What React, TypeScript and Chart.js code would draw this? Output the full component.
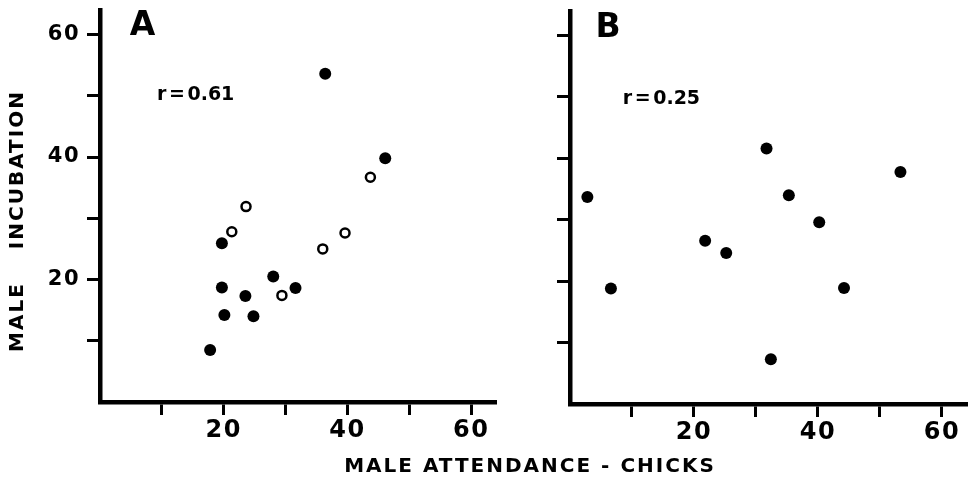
import React, { useEffect, useRef } from 'react';
import { Chart, registerables } from 'chart.js';
Chart.register(...registerables);

// ---- data ----
const aFilledX = [36.4, 46.1, 19.7, 19.7, 23.5, 28.0, 31.6, 20.1, 24.8, 17.8];
const aFilledY = [53.6, 39.8, 25.9, 18.7, 17.3, 20.5, 18.6, 14.2, 14.0, 8.5];
const aOpenX = [23.6, 21.3, 43.7, 39.6, 36.0, 29.4];
const aOpenY = [31.9, 27.8, 36.7, 27.6, 25.0, 17.4];
const bFilledX = [2.8, 6.6, 21.8, 25.2, 31.7, 32.4, 35.3, 40.2, 44.2, 53.3];
const bFilledY = [33.7, 18.8, 26.6, 24.6, 41.6, 7.3, 34.0, 29.6, 18.9, 37.8];
const labeledTicks = [20, 40, 60];
const panelLabels = ['A', 'B'];
const rLabels = ['r = 0.61', 'r = 0.25'];
const xTitle = 'MALE ATTENDANCE - CHICKS';
const yTitle = 'MALE INCUBATION';

const FONT = '"DejaVu Sans", sans-serif';

const toPoints = (xs: number[], ys: number[]) => xs.map((x, i) => ({ x, y: ys[i] }));

function axisCommon(max: number, showLabels: boolean, size: number, pad: number, fix: (s: any) => void) {
  return {
    type: 'linear',
    min: 0,
    max,
    afterFit: (s: any) => {
      fix(s);
      s.paddingTop = 0;
      s.paddingBottom = 0;
      s.paddingLeft = 0;
      s.paddingRight = 0;
    },
    grid: {
      display: true,
      drawOnChartArea: false,
      drawTicks: true,
      tickLength: 13,
      tickWidth: 3,
      color: '#000',
      tickColor: (c: any) => (c.tick && c.tick.value === 0 ? 'rgba(0,0,0,0)' : '#000'),
    },
    border: { display: true, color: '#000', width: 4.5 },
    ticks: {
      stepSize: 10,
      includeBounds: false,
      autoSkip: false,
      maxRotation: 0,
      padding: pad,
      color: '#000',
      font: { family: FONT, weight: 'bold', size },
      callback: (v: any) => (showLabels && labeledTicks.includes(Number(v)) ? String(v) : ''),
    },
  };
}

function makeTextPlugin(idx: number, lx: number, ly: number, rx: number, ry: number, titles: boolean) {
  return {
    id: 'panelText' + idx,
    beforeDraw(chart: any) {
      chart.ctx.letterSpacing = '1.5px';
    },
    afterDraw(chart: any) {
      const { ctx } = chart;
      const x = chart.scales.x;
      const y = chart.scales.y;
      ctx.save();
      ctx.fillStyle = '#000';
      ctx.textAlign = 'left';
      ctx.textBaseline = 'alphabetic';
      ctx.letterSpacing = '0px';
      ctx.font = `bold 33px ${FONT}`;
      ctx.fillText(panelLabels[idx], x.getPixelForValue(lx), y.getPixelForValue(ly));
      ctx.font = `bold 19px ${FONT}`;
      (ctx as any).wordSpacing = '-4px';
      ctx.fillText(rLabels[idx], x.getPixelForValue(rx), y.getPixelForValue(ry));
      (ctx as any).wordSpacing = '0px';
      if (titles) {
        ctx.font = `bold 20px ${FONT}`;
        ctx.letterSpacing = '2px';
        ctx.textAlign = 'center';
        ctx.textBaseline = 'middle';
        ctx.fillText(xTitle, 530, 467);
        ctx.save();
        ctx.translate(18, 221);
        ctx.rotate(-Math.PI / 2);
        (ctx as any).wordSpacing = '24px';
        ctx.fillText(yTitle, 0, 0);
        ctx.restore();
      }
      ctx.restore();
    },
  };
}

export default function App() {
  const refA = useRef<HTMLCanvasElement | null>(null);
  const refB = useRef<HTMLCanvasElement | null>(null);

  useEffect(() => {
    document.body.style.margin = '0';
    const base = {
      responsive: false,
      animation: false,
      devicePixelRatio: 1,
      plugins: { legend: { display: false }, tooltip: { enabled: false } },
    };

    const xA: any = axisCommon(64, true, 24, 1, (s) => { s.height = 81; });
    const yA: any = axisCommon(64, true, 21, 7, (s) => { s.width = 100; });

    const chartA = new Chart(refA.current as HTMLCanvasElement, {
      type: 'scatter',
      data: {
        datasets: [
          {
            data: toPoints(aFilledX, aFilledY),
            pointRadius: 6,
            pointBackgroundColor: '#000',
            pointBorderColor: '#000',
            pointBorderWidth: 0,
          },
          {
            data: toPoints(aOpenX, aOpenY),
            pointRadius: 4.5,
            pointBackgroundColor: '#fff',
            pointBorderColor: '#000',
            pointBorderWidth: 2.5,
          },
        ],
      },
      options: {
        ...base,
        layout: { autoPadding: false, padding: { left: 0, top: 10, right: 472, bottom: 0 } },
        scales: { x: xA, y: yA },
      } as any,
      plugins: [makeTextPlugin(0, 4.8, 59.9, 9.2, 49.3, true)],
    });

    const xB: any = axisCommon(64.2, true, 24, 1, (s) => { s.height = 79; });
    const yB: any = axisCommon(64, false, 21, 7, (s) => { s.width = 570; });

    const chartB = new Chart(refB.current as HTMLCanvasElement, {
      type: 'scatter',
      data: {
        datasets: [
          {
            data: toPoints(bFilledX, bFilledY),
            pointRadius: 6,
            pointBackgroundColor: '#000',
            pointBorderColor: '#000',
            pointBorderWidth: 0,
          },
        ],
      },
      options: {
        ...base,
        layout: { autoPadding: false, padding: { left: 0, top: 11, right: 0, bottom: 0 } },
        scales: { x: xB, y: yB },
      } as any,
      plugins: [makeTextPlugin(1, 4.1, 59.7, 8.5, 48.9, false)],
    });

    return () => {
      chartA.destroy();
      chartB.destroy();
    };
  }, []);

  const cs: React.CSSProperties = { position: 'absolute', left: 0, top: 0 };
  return (
    <div style={{ position: 'relative', width: 968, height: 483, background: '#fff', overflow: 'hidden' }}>
      <canvas ref={refA} width={968} height={483} style={cs} />
      <canvas ref={refB} width={968} height={483} style={cs} />
    </div>
  );
}
